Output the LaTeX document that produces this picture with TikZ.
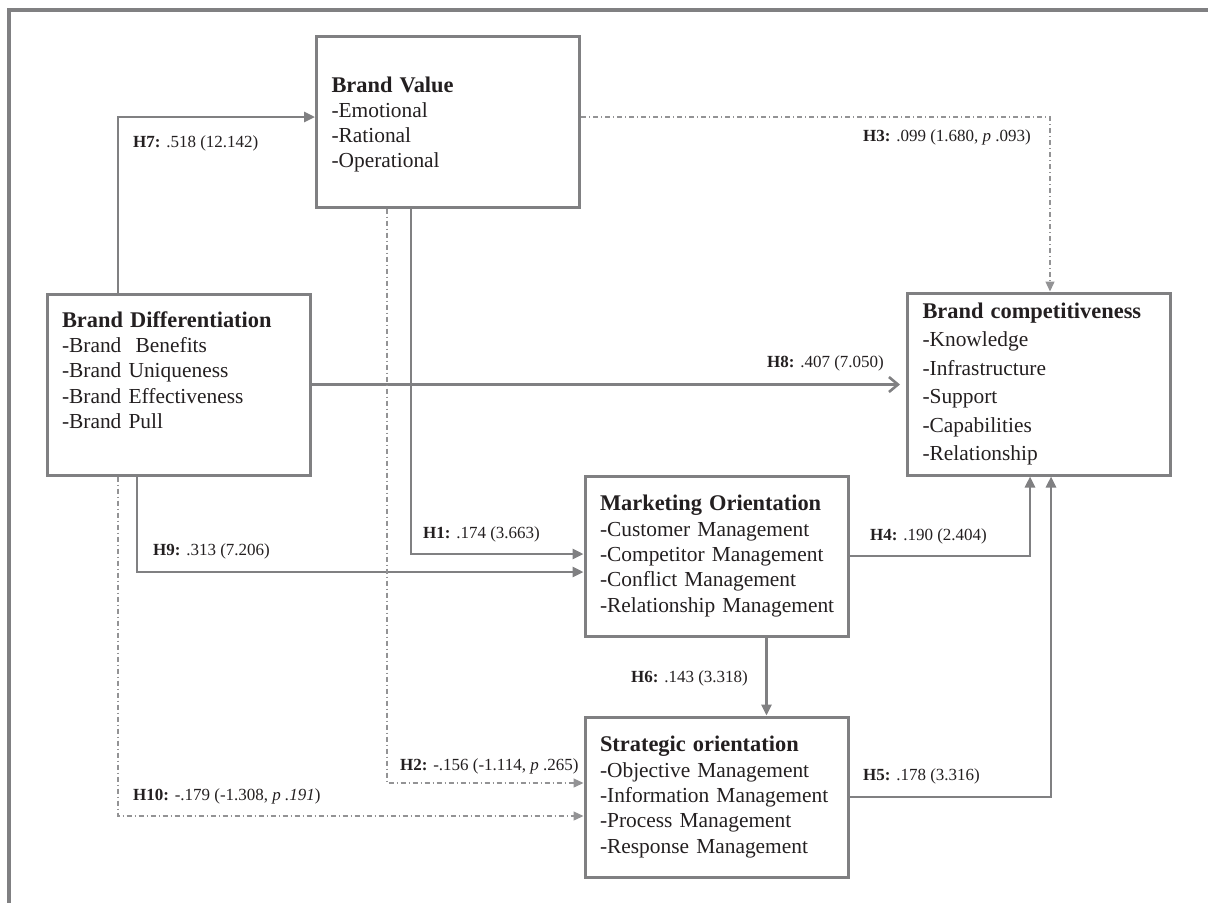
\documentclass[tikz,border=0pt]{standalone}
\usepackage{fontspec}
\setmainfont{Liberation Serif}
\usetikzlibrary{arrows.meta}
\definecolor{boxgray}{RGB}{128,128,130}
\definecolor{inkdark}{RGB}{35,31,32}
\newcommand{\ctitle}[1]{{\fontsize{22.4}{25.3}\selectfont\bfseries #1}}

\begin{document}
\begin{tikzpicture}[x=1pt, y=-1pt,
        construct/.style={draw=boxgray, line width=3pt, text=inkdark, align=left,
            inner xsep=15pt, inner ysep=0pt, text width=233pt, minimum height=#1,
            font=\fontsize{21.4}{25.3}\selectfont,
            execute at begin node={\hyphenpenalty=10000\exhyphenpenalty=10000}},
        link/.style={draw=boxgray, line width=2.6pt, -{Triangle[length=11pt,width=10pt]}},
        weak/.style={draw=boxgray!85, line width=1.3pt, dash pattern=on 5pt off 3pt on 1pt off 3pt,
            -{Triangle[length=10pt,width=9pt]}},
        hyp/.style={anchor=base west, inner sep=0pt, text=inkdark, font=\fontsize{17}{20}\selectfont}]
        \useasboundingbox (0,0) rectangle (1208,903);
        \draw[boxgray, line width=4pt] (1208,10) -- (9,10) -- (9,903);

        \node[construct=171pt] (bv) at (448,121.5) {\ctitle{Brand Value}\\-Emotional\\-Rational\\-Operational\par\vspace{-6pt}};
        \node[construct=181pt] (bd) at (178.5,384.5) {\ctitle{Brand Differentiation}\\-Brand\ \ Benefits\\-Brand Uniqueness\\-Brand Effectiveness\\-Brand Pull\par\vspace{29pt}};
        \node[construct=182pt, font=\fontsize{21.4}{28.5}\selectfont] (bc) at (1039,384) {\ctitle{Brand competitiveness}\\-Knowledge\\-Infrastructure\\-Support\\-Capabilities\\-Relationship};
        \node[construct=160pt] (mo) at (716.5,556) {\ctitle{Marketing~Orientation}\\-Customer~Management\\-Competitor~Management\\-Conflict~Management\\-Relationship~Management};
        \node[construct=160pt] (so) at (716.5,797) {\ctitle{Strategic~orientation}\\-Objective~Management\\-Information~Management\\-Process~Management\\-Response~Management};

        \draw[link] ([xshift=-60.5pt]bd.north) |- ([yshift=4.5pt]bv.west);
        \draw[weak] ([yshift=4.5pt]bv.east) -| ([xshift=11pt]bc.north);
        \draw[link, -{Straight Barb[length=9pt,width=15pt]}, shorten >=6pt] (bd.east) -- (bd.east -| bc.west);
        \draw[link] ([xshift=-37pt]bv.south) |- ([yshift=2pt]mo.west);
        \draw[link] ([xshift=-41.5pt]bd.south) |- ([yshift=-16pt]mo.west);
        \draw[link] (mo.east) -| ([xshift=-9pt]bc.south);
        \draw[link] (so.east) -| ([xshift=12pt]bc.south);
        \draw[link] ([xshift=50pt]mo.south) -- ([xshift=50pt]so.north);
        \draw[weak] ([xshift=-61pt]bv.south) |- ([yshift=14pt]so.west);
        \draw[weak] ([xshift=-60.5pt]bd.south) |- ([yshift=-19pt]so.west);

        \node[hyp] (l7) at (133,147) {\textbf{H7:} .518 (12.142)};
        \node[hyp] (l3) at (863,141) {\textbf{H3:} .099 (1.680, \textit{p} .093)};
        \node[hyp] (l8) at (767,367) {\textbf{H8:} .407 (7.050)};
        \node[hyp] (l1) at (423,538) {\textbf{H1:} .174 (3.663)};
        \node[hyp] (l9) at (153,555) {\textbf{H9:} .313 (7.206)};
        \node[hyp] (l4) at (870,540) {\textbf{H4:} .190 (2.404)};
        \node[hyp] (l6) at (631,682) {\textbf{H6:} .143 (3.318)};
        \node[hyp] (l5) at (863,780) {\textbf{H5:} .178 (3.316)};
        \node[hyp] (l2) at (400,770) {\textbf{H2:} -.156 (-1.114, \textit{p} .265)};
        \node[hyp] (l10) at (133,800) {\textbf{H10:} -.179 (-1.308, \textit{p .191})};
    \end{tikzpicture}
\end{document}
